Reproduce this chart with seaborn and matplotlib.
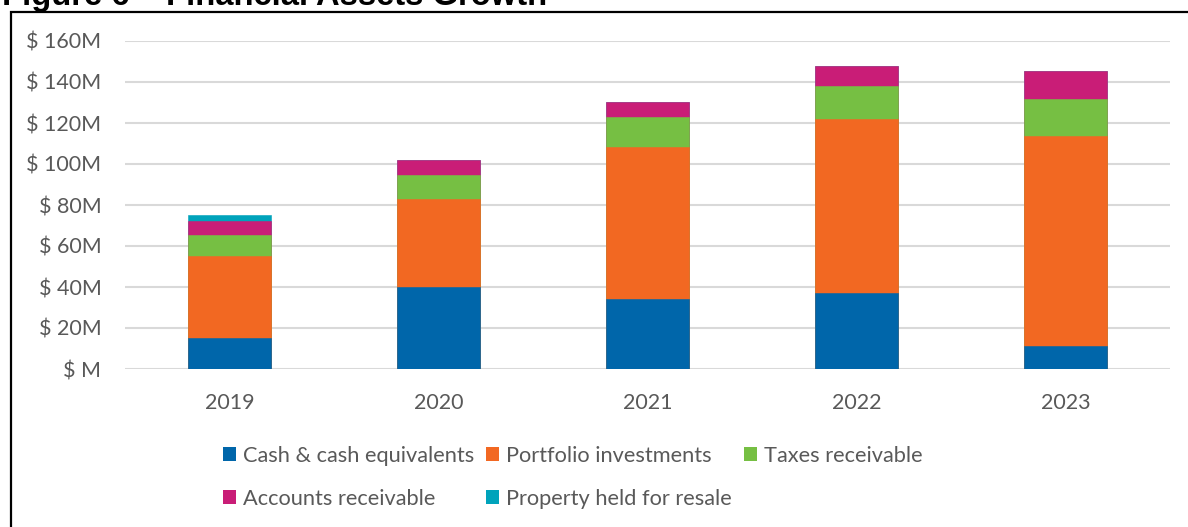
import matplotlib
matplotlib.use("Agg")
import matplotlib.pyplot as plt
from matplotlib.patches import Rectangle, Patch
import numpy as np
import pandas as pd
import seaborn as sns

# Financial assets by year, in $ millions
years = ["2019", "2020", "2021", "2022", "2023"]
cash = [15.3, 40.1, 34.0, 37.2, 11.4]
portfolio = [40.0, 42.8, 74.1, 84.6, 102.1]
taxes = [10.2, 11.7, 14.8, 16.2, 18.2]
accounts = [6.5, 7.4, 7.5, 9.8, 13.7]
property_resale = [3.0, 0.0, 0.0, 0.0, 0.0]

series_names = ["Cash & cash equivalents", "Portfolio investments", "Taxes receivable",
                "Accounts receivable", "Property held for resale"]
series_colors = ["#0066AA", "#F26822", "#76BF43", "#C91D77", "#00A3BB"]

y_ticks = [0, 20, 40, 60, 80, 100, 120, 140, 160]
y_tick_labels = ["$ M", "$ 20M", "$ 40M", "$ 60M", "$ 80M", "$ 100M", "$ 120M", "$ 140M", "$ 160M"]

title = "Figure 6 \u2013 Financial Assets Growth"

df = pd.DataFrame({
    "year": years,
    series_names[0]: cash,
    series_names[1]: portfolio,
    series_names[2]: taxes,
    series_names[3]: accounts,
    series_names[4]: property_resale,
})
cum = df[series_names].cumsum(axis=1)

sns.set_theme(style="white")
plt.rcParams["font.family"] = ["Lato", "DejaVu Sans"]

W, H = 1188, 527
fig = plt.figure(figsize=(W / 100, H / 100), dpi=100)
ax = fig.add_axes([125 / W, 1 - 369 / H, (1170 - 125) / W, (369 - 41) / H])

# stacked bars: draw cumulative totals from the top layer downwards
for name, color in reversed(list(zip(series_names, series_colors))):
    sns.barplot(x=df["year"], y=cum[name], color=color, width=0.4, ax=ax,
                saturation=1, edgecolor=color, linewidth=0.4, zorder=3)

ax.set_xlim(-0.5, 4.5)
ax.set_ylim(0, 160)
ax.set_yticks(y_ticks)
ax.set_yticklabels(y_tick_labels)
ax.set_xlabel("")
ax.set_ylabel("")
ax.grid(axis="y", color="#D9D9D9", linewidth=1.5, zorder=0)
ax.grid(axis="x", visible=False)
for s in ax.spines.values():
    s.set_visible(False)
ax.tick_params(axis="both", length=0, labelsize=15.5, labelcolor="#595959")
ax.tick_params(axis="y", pad=17)
ax.tick_params(axis="x", pad=17)

handles = [Patch(facecolor=c, edgecolor="none") for c in series_colors]
order = [0, 3, 1, 4, 2]
leg = fig.legend([handles[i] for i in order], [series_names[i] for i in order],
                 ncol=3, frameon=False, loc="upper left",
                 bbox_to_anchor=(203 / W, 1 - 426 / H),
                 handlelength=0.62, handleheight=0.62, handletextpad=0.3,
                 columnspacing=0.55, labelspacing=1.05, fontsize=15.7)
for t in leg.get_texts():
    t.set_color("#595959")

# outer frame
fig.patches.append(Rectangle((10.5 / W, -0.1), 1.2, 1.1 - 12 / H + 0.0,
                             transform=fig.transFigure, fill=False,
                             edgecolor="black", linewidth=1.6))
fig.text(2 / W, 1 - 5 / H, title, fontsize=23.6, fontweight="bold",
         family="Liberation Sans", color="black", ha="left", va="baseline")

fig.savefig("out.png", dpi=100)
